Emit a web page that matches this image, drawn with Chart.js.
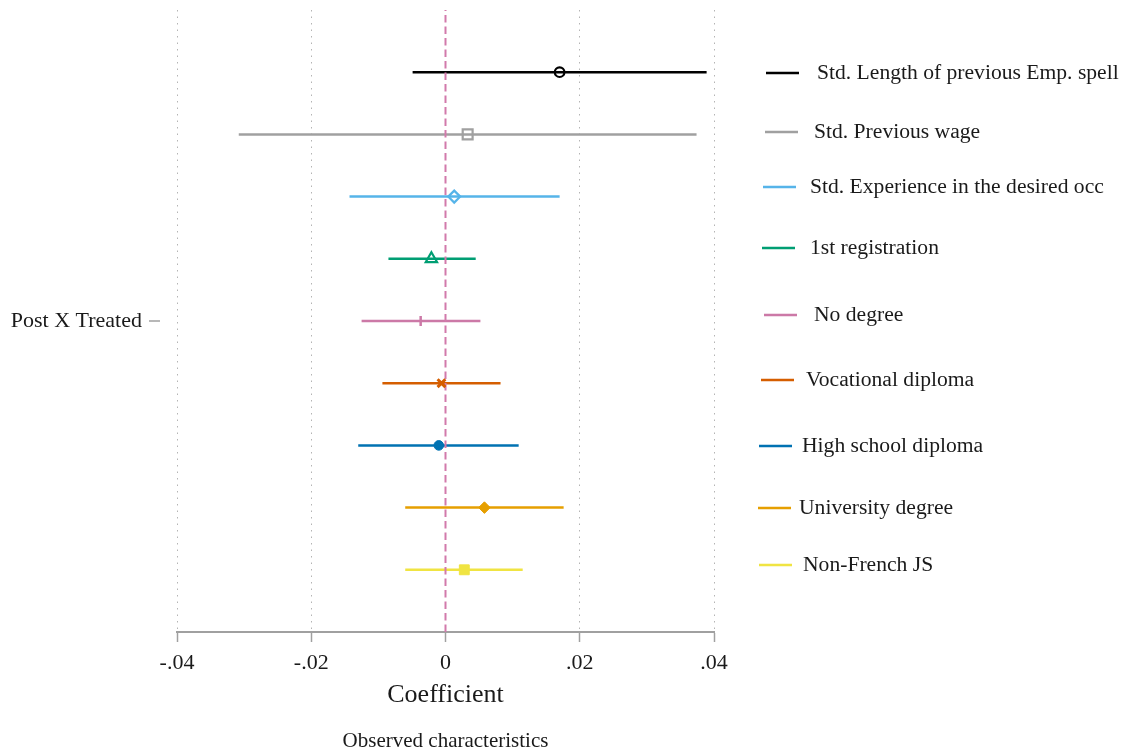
<!DOCTYPE html>
<html>
<head>
<meta charset="utf-8">
<title>Post X Treated - observed characteristics</title>
<script src="https://cdn.jsdelivr.net/npm/chart.js@4.4.1/dist/chart.umd.min.js"></script>
<style>
  html, body { margin: 0; padding: 0; background: #fff; }
  #chart { display: block; }
</style>
</head>
<body>
<canvas id="chart" width="1128" height="755"></canvas>
<script>
// coefficient estimates with 95% CI, one row per characteristic
const labels = [
  'Std. Length of previous Emp. spell',
  'Std. Previous wage',
  'Std. Experience in the desired occ',
  '1st registration',
  'No degree',
  'Vocational diploma',
  'High school diploma',
  'University degree',
  'Non-French JS'
];
const coef   = [0.0170, 0.0033, 0.0013, -0.0021, -0.0037, -0.0006, -0.0010, 0.0058, 0.0028];
const ciLow  = [-0.0049, -0.0308, -0.0143, -0.0085, -0.0125, -0.0094, -0.0130, -0.0060, -0.0060];
const ciHigh = [0.0389, 0.0374, 0.0170, 0.0045, 0.0052, 0.0082, 0.0109, 0.0176, 0.0115];
const xTicks = [-0.04, -0.02, 0, 0.02, 0.04];

const colors = ['#000000', '#a0a0a0', '#56b4e9', '#009e73', '#cc79a7', '#d55e00', '#0072b2', '#e69f00', '#f0e442'];
const markers = [
  { style: 'circle',   r: 4.8, fill: false, bw: 2.2 },
  { style: 'rect',     r: 7,   fill: false, bw: 2.2 },
  { style: 'rectRot',  r: 6,   fill: false, bw: 2.2 },
  { style: 'triangle', r: 6.5, fill: false, bw: 2.2 },
  { style: 'line',     r: 5,   fill: false, bw: 2.5, rot: 90 },
  { style: 'crossRot', r: 5.5, fill: false, bw: 3 },
  { style: 'circle',   r: 4.8, fill: true,  bw: 1 },
  { style: 'rectRot',  r: 5.8, fill: true,  bw: 1 },
  { style: 'rect',     r: 7,   fill: true,  bw: 1 }
];
// legend swatch start x, y and text x
const legendPos = [
  [766, 73, 817], [765, 132, 814], [763, 187, 810], [762, 248, 810], [764, 315, 814],
  [761, 380, 806], [759, 446, 802], [758, 508, 799], [759, 565, 803]
];

const FONT = "'Liberation Serif', 'DejaVu Serif', serif";
const rowY = i => (labels.length - 1) / 2 - i;

let datasets = [];
labels.forEach(function (lab, i) {
  datasets.push({
    label: lab + ' CI',
    data: [{ x: ciLow[i], y: rowY(i) }, { x: ciHigh[i], y: rowY(i) }],
    showLine: true,
    borderColor: colors[i],
    borderWidth: 2.5,
    pointRadius: 0,
    order: 3
  });
});
datasets.push({
  label: 'zero',
  data: [{ x: 0, y: -5 }, { x: 0, y: 5.2 }],
  showLine: true,
  borderColor: '#d27aab',
  borderWidth: 2,
  borderDash: [7.5, 4],
  pointRadius: 0,
  order: 2
});
labels.forEach(function (lab, i) {
  const m = markers[i];
  datasets.push({
    label: lab,
    data: [{ x: coef[i], y: rowY(i) }],
    pointStyle: m.style,
    pointRadius: m.r,
    pointRotation: m.rot || 0,
    pointBorderWidth: m.bw,
    pointBorderColor: colors[i],
    pointBackgroundColor: m.fill ? colors[i] : 'rgba(0,0,0,0)',
    order: 1
  });
});

const extras = {
  id: 'extras',
  afterDraw(chart) {
    const ctx = chart.ctx;
    const xs = chart.scales.x, ys = chart.scales.y;
    ctx.save();
    // small tick next to the row label
    const y0 = ys.getPixelForValue(0);
    ctx.strokeStyle = '#a0a0a0';
    ctx.lineWidth = 1.5;
    ctx.beginPath();
    ctx.moveTo(149, y0);
    ctx.lineTo(160, y0);
    ctx.stroke();

    // legend
    ctx.font = '21.6px ' + FONT;
    ctx.textBaseline = 'middle';
    ctx.textAlign = 'left';
    labels.forEach(function (lab, i) {
      const p = legendPos[i];
      ctx.strokeStyle = colors[i];
      ctx.lineWidth = 2.5;
      ctx.beginPath();
      ctx.moveTo(p[0], p[1]);
      ctx.lineTo(p[0] + 33, p[1]);
      ctx.stroke();
      ctx.fillStyle = '#1a1a1a';
      ctx.fillText(lab, p[2], p[1] + 0.5);
    });

    // axis titles
    const cx = (xs.left + xs.right) / 2;
    ctx.textAlign = 'center';
    ctx.fillStyle = '#1a1a1a';
    ctx.font = '26px ' + FONT;
    ctx.fillText('Coefficient', cx, 695);
    ctx.font = '21px ' + FONT;
    ctx.fillText('Observed characteristics', cx, 741);
    ctx.restore();
  }
};

new Chart(document.getElementById('chart'), {
  type: 'scatter',
  data: { datasets: datasets },
  options: {
    responsive: false,
    animation: false,
    devicePixelRatio: 1,
    layout: { padding: { top: 10, right: 414, bottom: 0, left: 0 } },
    plugins: {
      legend: { display: false },
      tooltip: { enabled: false }
    },
    scales: {
      x: {
        type: 'linear',
        min: -0.04,
        max: 0.04,
        afterBuildTicks: function (scale) {
          scale.ticks = xTicks.map(v => ({ value: v }));
        },
        afterFit: function (scale) { scale.height = 123; },
        border: { display: true, color: '#a0a0a0', width: 2, dash: [1.5, 5] },
        grid: {
          color: c => (c.tick && Math.abs(c.tick.value) < 1e-9) ? 'rgba(0,0,0,0)' : '#b4b4b4',
          lineWidth: 1,
          tickLength: 10,
          tickColor: '#a0a0a0',
          tickWidth: 1.5,
          tickBorderDash: []
        },
        ticks: {
          padding: 8,
          color: '#1a1a1a',
          font: { family: FONT, size: 22 },
          callback: function (v) {
            const r = Math.round(v * 100) / 100;
            if (r === 0) return '0';
            return (r < 0 ? '-' : '') + Math.abs(r).toFixed(2).replace(/^0/, '');
          }
        }
      },
      y: {
        type: 'linear',
        min: -5,
        max: 5,
        afterBuildTicks: function (scale) { scale.ticks = [{ value: 0 }]; },
        afterFit: function (scale) {
          scale.width = 177;
          scale.paddingTop = 0;
          scale.paddingBottom = 0;
        },
        border: { display: false },
        grid: { display: false },
        ticks: {
          padding: 27,
          color: '#1a1a1a',
          font: { family: FONT, size: 22 },
          callback: () => 'Post X Treated'
        }
      }
    }
  },
  plugins: [extras]
});
</script>
</body>
</html>
